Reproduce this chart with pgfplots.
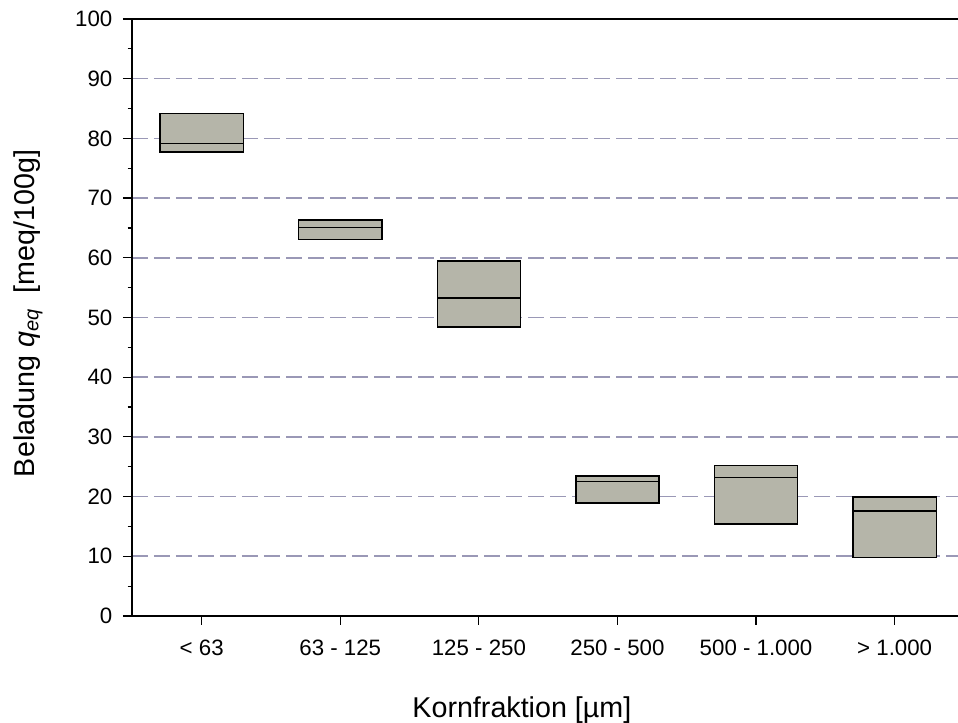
\documentclass[border=0pt]{standalone}
\usepackage{pgfplots}
\pgfplotsset{compat=1.18}
\usepackage{fontspec}
\setmainfont{Liberation Sans}
\definecolor{boxfill}{RGB}{181,181,169}
\definecolor{gridc}{RGB}{154,152,182}
\begin{document}
\begin{tikzpicture}
\useasboundingbox (0pt,0pt) rectangle (718.5pt,542.25pt);
\begin{axis}[
  at={(99pt,80.25pt)}, anchor=south west,
  scale only axis,
  width=619.5pt, height=447.75pt,
  xmin=-0.503, xmax=5.457,
  ymin=0, ymax=100,
  axis x line=box, axis y line=left,
  axis line style={-, line width=1.3pt, black},
  xtick={0,1,2,3,4,5},
  xticklabels={{< 63},{63 - 125},{125 - 250},{250 - 500},{500 - 1.000},{> 1.000}},
  xtick pos=bottom, ytick pos=left,
  tick align=outside,
  major tick length=6.75pt, minor tick length=3.3pt,
  every tick/.style={black, line width=0.9pt},
  ytick={0,10,...,100},
  minor y tick num=1,
  ymajorgrids,
  major grid style={gridc, line width=1.2pt, dash pattern=on 12pt off 4.5pt},
  /pgf/number format/assume math mode=true,
  tick label style={font=\fontsize{16.7}{19}\selectfont},
  xticklabel style={yshift=-8pt},
  yticklabel style={xshift=-4.5pt},
  xlabel={Kornfraktion [µm]},
  ylabel={Beladung \textit{q}\textsubscript{\textit{eq}}\ \ [meq/100g]},
  every axis x label/.style={at={(rel axis cs:0.472,0)}, anchor=center, yshift=-70.5pt, font=\fontsize{21.5}{25}\selectfont},
  every axis y label/.style={at={(rel axis cs:0,0.507)}, anchor=center, rotate=90, yshift=78pt, font=\fontsize{21.5}{25}\selectfont},
]
% box 1: < 63
\addplot[draw=black, line width=1.1pt, fill=boxfill] coordinates {(-0.3,77.7) (0.3,77.7) (0.3,84.2) (-0.3,84.2)} -- cycle;
\addplot[draw=black, line width=1.1pt] coordinates {(-0.3,79.1) (0.3,79.1)};
% box 2: 63 - 125
\addplot[draw=black, line width=1.1pt, fill=boxfill] coordinates {(0.7,63.1) (1.3,63.1) (1.3,66.3) (0.7,66.3)} -- cycle;
\addplot[draw=black, line width=1.1pt] coordinates {(0.7,65.1) (1.3,65.1)};
% box 3: 125 - 250
\addplot[draw=black, line width=1.1pt, fill=boxfill] coordinates {(1.7,48.4) (2.3,48.4) (2.3,59.5) (1.7,59.5)} -- cycle;
\addplot[draw=black, line width=1.1pt] coordinates {(1.7,53.3) (2.3,53.3)};
% box 4: 250 - 500
\addplot[draw=black, line width=1.1pt, fill=boxfill] coordinates {(2.7,18.9) (3.3,18.9) (3.3,23.45) (2.7,23.45)} -- cycle;
\addplot[draw=black, line width=1.1pt] coordinates {(2.7,22.55) (3.3,22.55)};
% box 5: 500 - 1.000
\addplot[draw=black, line width=1.1pt, fill=boxfill] coordinates {(3.7,15.4) (4.3,15.4) (4.3,25.2) (3.7,25.2)} -- cycle;
\addplot[draw=black, line width=1.1pt] coordinates {(3.7,23.2) (4.3,23.2)};
% box 6: > 1.000
\addplot[draw=black, line width=1.1pt, fill=boxfill] coordinates {(4.7,9.8) (5.3,9.8) (5.3,19.9) (4.7,19.9)} -- cycle;
\addplot[draw=black, line width=1.1pt] coordinates {(4.7,17.6) (5.3,17.6)};
\end{axis}
\end{tikzpicture}
\end{document}
